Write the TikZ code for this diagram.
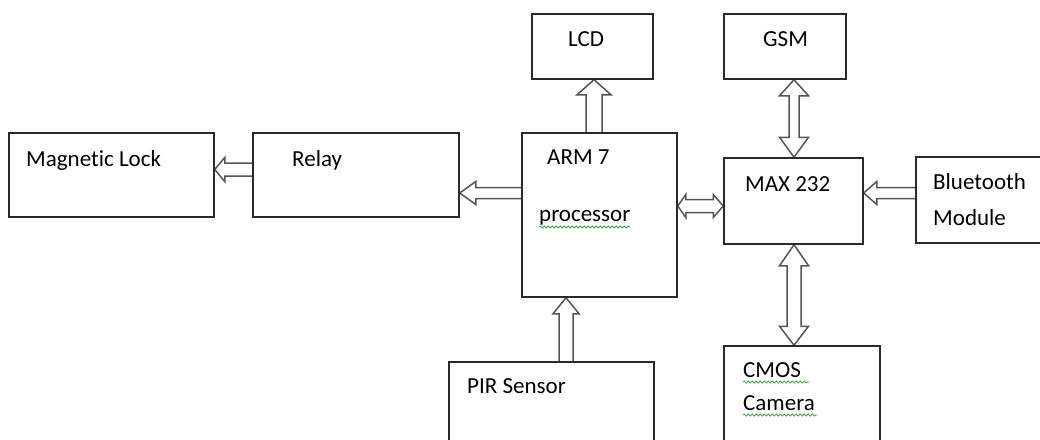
\documentclass[tikz,border=0pt]{standalone}
\usepackage{fontspec}
\setmainfont{Carlito}[Ligatures={NoCommon}]
\usetikzlibrary{calc,decorations.pathmorphing}
\definecolor{boxgray}{HTML}{2A2A2A}
\definecolor{arrgray}{HTML}{555555}
\definecolor{squiggreen}{HTML}{3DAA3D}
\pgfdeclarelayer{bg}
\pgfsetlayers{bg,main}
% single hollow arrow: #1 tail, #2 tip, #3 shaft half width, #4 head half width, #5 head length
\newcommand\sarr[5]{\filldraw[blk] let \p1=(#1), \p2=(#2), \n1={atan2(\y2-\y1,\x2-\x1)}, \n2={veclen(\x2-\x1,\y2-\y1)} in [shift={(\p1)}, rotate=\n1]
  (0pt,#3) -- ({\n2-#5},#3) -- ({\n2-#5},#4) -- (\n2,0pt) -- ({\n2-#5},-#4) -- ({\n2-#5},-#3) -- (0pt,-#3);}
% double hollow arrow: #1 tip1, #2 tip2, #3 shaft half, #4 head half, #5 head length at #1, #6 head length at #2
\newcommand\darr[6]{\filldraw[blk] let \p1=(#1), \p2=(#2), \n1={atan2(\y2-\y1,\x2-\x1)}, \n2={veclen(\x2-\x1,\y2-\y1)} in [shift={(\p1)}, rotate=\n1]
  (0pt,0pt) -- (#5,#4) -- (#5,#3) -- ({\n2-#6},#3) -- ({\n2-#6},#4) -- (\n2,0pt) -- ({\n2-#6},-#4) -- ({\n2-#6},-#3) -- (#5,-#3) -- (#5,-#4) -- cycle;}
\tikzset{
  box/.style={draw=boxgray, line width=1.5pt, inner sep=0pt},
  blk/.style={draw=arrgray, line width=1.5pt, fill=white, line join=miter},
  lbl/.style={anchor=base west, inner sep=0pt, text=black, font=\fontsize{23}{27}\selectfont},
  squig/.style={draw=squiggreen, line width=0.8pt, decorate, decoration={snake, amplitude=1.1pt, segment length=4pt}}
}
\begin{document}
\begin{tikzpicture}[x=1pt, y=-1pt]
\useasboundingbox (0,0) rectangle (1040,439);
\begin{pgfonlayer}{bg}
\fill[white] (0,0) rectangle (1040,439);
\end{pgfonlayer}
\clip (0,0) rectangle (1040,439);
% boxes
\node[box, minimum width=205pt, minimum height=84pt] (lock) at (111.5,175) {};
\node[box, minimum width=206pt, minimum height=84pt] (relay) at (356,175) {};
\node[box, minimum width=155pt, minimum height=164pt] (arm) at (599.5,215) {};
\node[box, minimum width=121pt, minimum height=65pt] (lcd) at (592.5,46.5) {};
\node[box, minimum width=122pt, minimum height=65pt] (gsm) at (785,46.5) {};
\node[box, minimum width=139pt, minimum height=86pt] (max) at (793.5,201) {};
\node[box, minimum width=164pt, minimum height=86pt] (bt) at (998,200) {};
\node[box, minimum width=205pt, minimum height=118pt] (pir) at (551.5,421) {};
\node[box, minimum width=156pt, minimum height=134pt] (cmos) at (802,413) {};
% labels
\node[lbl] (tlock) at (26,166) {Magnetic Lock};
\node[lbl] (trelay) at (292,166) {Relay};
\node[lbl] (tarm) at (547,164) {ARM 7};
\node[lbl] (tproc) at (539,221) {processor};
\node[lbl] (tlcd) at (568,46) {LCD};
\node[lbl] (tgsm) at (763,46) {GSM};
\node[lbl] (tmax) at (745,191) {MAX 232};
\node[lbl] (tbt) at (933,189) {Bluetooth};
\node[lbl] (tmod) at (933,225) {Module};
\node[lbl] (tpir) at (467,393) {PIR Sensor};
\node[lbl] (tcmos) at (743,377) {CMOS};
\node[lbl] (tcam) at (743,410) {Camera};
% spell-check squiggles
\draw[squig] ($(tproc.base west)+(0,6)$) -- ($(tproc.base east)+(0,6)$);
\draw[squig] ($(tcmos.base west)+(0,5)$) -- ($(tcmos.base east)+(8,5)$);
\draw[squig] ($(tcam.base west)+(0,5)$) -- ($(tcam.base east)+(2,5)$);
% block arrows
\begin{pgfonlayer}{bg}
\sarr{relay.west |- 0,169.5}{lock.east |- 0,169.5}{6.5pt}{12pt}{10pt}
\sarr{arm.west |- 0,193}{relay.east |- 0,193}{5.5pt}{11.5pt}{16pt}
\sarr{594,0 |- arm.north}{594,0 |- lcd.south}{8pt}{17pt}{15pt}
\sarr{566,0 |- pir.north}{566,0 |- arm.south}{7pt}{13pt}{16pt}
\sarr{bt.west |- 0,193}{max.east |- 0,193}{5.5pt}{11.5pt}{13pt}
\darr{794,0 |- gsm.south}{794,0 |- max.north}{5pt}{14.5pt}{16pt}{20pt}
\darr{794,0 |- max.south}{794,0 |- cmos.north}{7pt}{14.5pt}{21pt}{19pt}
\darr{arm.east |- 0,206}{max.west |- 0,206}{6.5pt}{11.5pt}{8pt}{10pt}
\end{pgfonlayer}
\end{tikzpicture}
\end{document}
